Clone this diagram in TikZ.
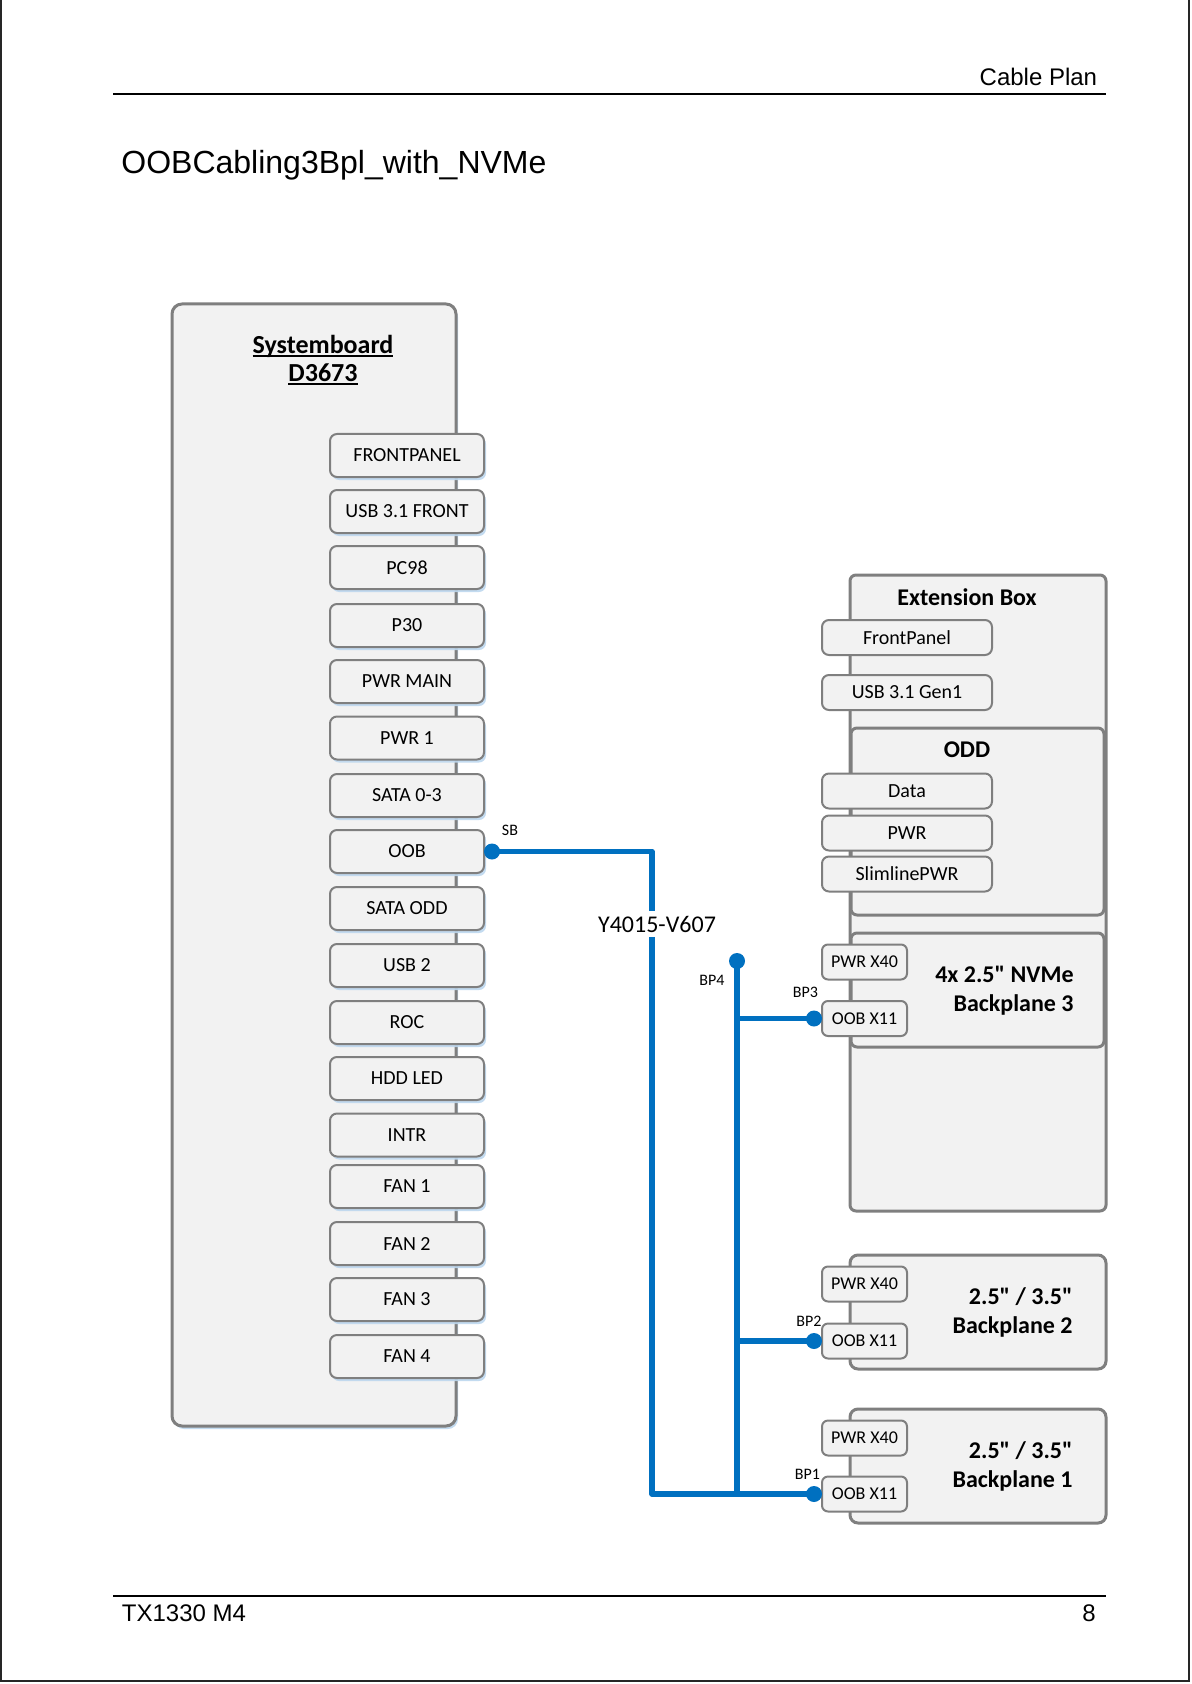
\documentclass[tikz,border=0pt]{standalone}
\usepackage{fontspec}
\setmainfont{Carlito}[Ligatures=TeXOff]
\newfontfamily\arialf{Liberation Sans}
\usetikzlibrary{shadows}
\definecolor{boxgray}{HTML}{7F7F7F}
\definecolor{boxfill}{HTML}{F2F2F2}
\definecolor{cableblue}{HTML}{0070C0}
\definecolor{shadowblue}{HTML}{BDD7EE}
\newcommand{\ulin}[1]{\setbox0\hbox{#1}\rlap{\rule[-1.4pt]{\wd0}{0.9pt}}\box0}
\begin{document}
\begin{tikzpicture}[x=0.5pt,y=-0.5pt,
  conn/.style={draw=boxgray, line width=1pt, fill=boxfill, rounded corners=3.5pt,
    minimum width=77pt, minimum height=21.5pt, inner sep=0pt,
    font=\fontsize{10}{12}\selectfont,
    drop shadow={shadow xshift=1pt, shadow yshift=-1.5pt, fill=shadowblue, opacity=0.9}},
  rconn/.style={draw=boxgray, line width=1pt, fill=boxfill, rounded corners=3.5pt,
    minimum width=85pt, minimum height=17.5pt, inner sep=0pt,
    font=\fontsize{10}{12}\selectfont},
  sconn/.style={draw=boxgray, line width=1pt, fill=boxfill, rounded corners=3pt,
    minimum width=42.5pt, minimum height=17.5pt, inner sep=0pt,
    font=\fontsize{9}{11}\selectfont},
  bigbox/.style={draw=boxgray, line width=1.5pt, fill=boxfill, rounded corners=4pt, inner sep=0pt},
  boxtitle/.style={font=\bfseries\fontsize{12}{14}\selectfont, inner sep=0pt},
  cable/.style={draw=cableblue, line width=2.75pt, line join=round},
  cdot/.style={circle, fill=cableblue, minimum size=8pt, inner sep=0pt},
  smalllbl/.style={font=\fontsize{8}{9}\selectfont, inner sep=0pt},
  pagetext/.style={font=\arialf\fontsize{12}{14}\selectfont, inner sep=0pt}
]
\path[use as bounding box] (0,0) rectangle (1191,1684);

% page frame and header/footer
\draw[line width=1pt, black!85] (1,0) -- (1,1681) -- (1189,1681) -- (1189,0);
\draw[line width=0.8pt] (113,94) -- (1106,94);
\draw[line width=0.8pt] (113,1596) -- (1106,1596);
\node[pagetext, anchor=base east] (hdr) at (1097.5,86) {Cable Plan};
\node[pagetext, font=\arialf\fontsize{16}{18}\selectfont, anchor=base west] (ttl) at (121,174) {OOBCabling3Bpl\_with\_NVMe};
\node[pagetext, anchor=base west] (ftl) at (121.5,1621) {TX1330 M4};
\node[pagetext, anchor=base east] (ftr) at (1096,1621) {8};

% systemboard
\node[bigbox, rounded corners=5pt, minimum width=142pt, minimum height=561pt,
  drop shadow={shadow xshift=1pt, shadow yshift=-1.5pt, fill=shadowblue, opacity=0.9}] (sb) at (314,865) {};
\node[font=\bfseries\fontsize{13}{14}\selectfont, anchor=base, inner sep=0pt] (sbt1) at (323,354) {\ulin{Systemboard}};
\node[font=\bfseries\fontsize{13}{14}\selectfont, anchor=base, inner sep=0pt] (sbt2) at (323,382) {\ulin{D3673}};

\node[conn] (c1) at (407,455.5) {FRONTPANEL};
\node[conn] (c2) at (407,511.5) {USB 3.1 FRONT};
\node[conn] (c3) at (407,567.5) {PC98};
\node[conn] (c4) at (407,625.5) {P30};
\node[conn] (c5) at (407,681.5) {PWR MAIN};
\node[conn] (c6) at (407,738) {PWR 1};
\node[conn] (c7) at (407,795.5) {SATA 0-3};
\node[conn] (oob) at (407,851.5) {OOB};
\node[conn] (c9) at (407,908.5) {SATA ODD};
\node[conn] (c10) at (407,965.5) {USB 2};
\node[conn] (c11) at (407,1022.5) {ROC};
\node[conn] (c12) at (407,1078.5) {HDD LED};
\node[conn] (c13) at (407,1135) {INTR};
\node[conn] (c14) at (407,1186.5) {FAN 1};
\node[conn] (c15) at (407,1243.5) {FAN 2};
\node[conn] (c16) at (407,1299.5) {FAN 3};
\node[conn] (c17) at (407,1356.5) {FAN 4};

% extension box
\node[bigbox, rounded corners=3pt, minimum width=128pt, minimum height=318pt] (ext) at (978,893) {};
\node[boxtitle, anchor=base] (extt) at (967,605) {Extension Box};
\node[rconn] (efp) at (907,637.5) {FrontPanel};
\node[rconn] (eusb) at (907,692.5) {USB 3.1 Gen1};

\node[bigbox, rounded corners=3pt, minimum width=126.5pt, minimum height=93.5pt] (odd) at (977.5,821.5) {};
\node[boxtitle, anchor=base] (oddt) at (967,757) {ODD};
\node[rconn] (odata) at (907,791) {Data};
\node[rconn] (opwr) at (907,833) {PWR};
\node[rconn] (oslim) at (907,874) {SlimlinePWR};

\node[bigbox, rounded corners=3pt, minimum width=126.5pt, minimum height=57pt] (bp3) at (977.5,990) {};
\node[boxtitle, anchor=base east] (bp3t1) at (1074,982) {4x 2.5" NVMe};
\node[boxtitle, anchor=base east] (bp3t2) at (1074,1011) {Backplane 3};
\node[sconn] (bp3pwr) at (864.5,962) {PWR X40};
\node[sconn] (bp3oob) at (864.5,1018.5) {OOB X11};

% backplane 2
\node[bigbox, rounded corners=4pt, minimum width=128pt, minimum height=57pt] (bp2) at (978,1312) {};
\node[boxtitle, anchor=base east] (bp2t1) at (1073,1304) {2.5" / 3.5"};
\node[boxtitle, anchor=base east] (bp2t2) at (1073,1333) {Backplane 2};
\node[sconn] (bp2pwr) at (864.5,1284) {PWR X40};
\node[sconn] (bp2oob) at (864.5,1341) {OOB X11};

% backplane 1
\node[bigbox, rounded corners=4pt, minimum width=128pt, minimum height=57pt] (bp1) at (978,1466) {};
\node[boxtitle, anchor=base east] (bp1t1) at (1073,1458) {2.5" / 3.5"};
\node[boxtitle, anchor=base east] (bp1t2) at (1073,1487) {Backplane 1};
\node[sconn] (bp1pwr) at (864.5,1438) {PWR X40};
\node[sconn] (bp1oob) at (864.5,1494) {OOB X11};

% cable
\coordinate (k1) at (652,851.5);
\coordinate (k2) at (652,1494);
\coordinate (j1) at (737,1494);
\node[cdot] (dsb) at (492,851.5) {};
\node[cdot] (dbp4) at (737,961) {};
\node[cdot] (dbp3) at (814,1018.5) {};
\node[cdot] (dbp2) at (814,1341) {};
\node[cdot] (dbp1) at (814,1494) {};
\draw[cable] (dsb.center) -- (k1) -- (k2) -- (dbp1.center);
\draw[cable] (dbp4.center) -- (j1);
\draw[cable] (dbp4.center |- dbp3.center) -- (dbp3.center);
\draw[cable] (dbp4.center |- dbp2.center) -- (dbp2.center);
\node[fill=white, inner xsep=1pt, inner ysep=2.5pt, font=\fontsize{12}{14}\selectfont] (cname) at (657,924) {Y4015-V607};

\node[smalllbl, anchor=base] (lsb) at (510,835) {SB};
\node[smalllbl, anchor=base] (lbp4) at (712,985) {BP4};
\node[smalllbl, anchor=base] (lbp3) at (805.5,997) {BP3};
\node[smalllbl, anchor=base] (lbp2) at (809,1326) {BP2};
\node[smalllbl, anchor=base] (lbp1) at (807.5,1479) {BP1};
\end{tikzpicture}
\end{document}
